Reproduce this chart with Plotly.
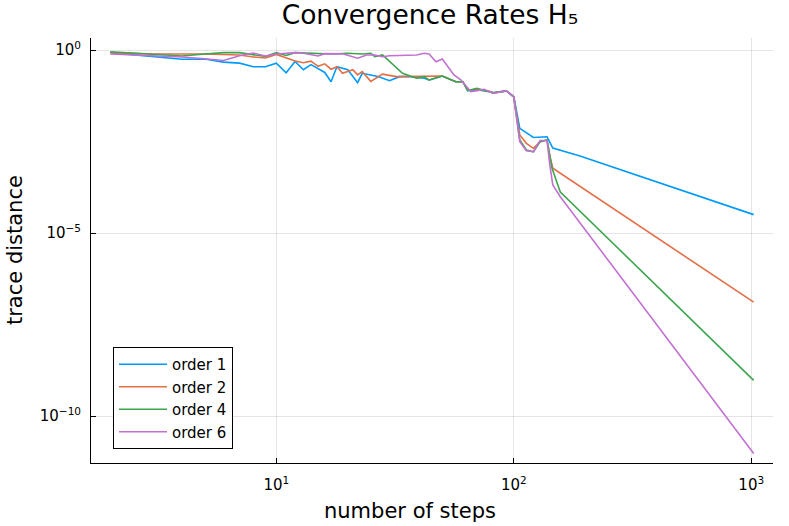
import plotly.graph_objects as go

# ---- data ----
order1_steps = [2, 3, 4, 5, 6, 7, 8, 9, 10, 11, 12, 13, 14, 16, 17, 18, 20, 22, 23, 25, 27, 30, 33, 36,
                42, 44, 50, 57, 61, 64, 70, 79, 82, 93, 100, 106, 121, 138, 146, 190, 1024]
order1_vals = [0.85, 0.68, 0.56, 0.57, 0.47, 0.44, 0.35, 0.35, 0.44, 0.24, 0.49, 0.29, 0.40, 0.245, 0.137,
               0.35, 0.29, 0.129, 0.232, 0.209, 0.188, 0.146, 0.188, 0.19, 0.17, 0.152, 0.196, 0.137,
               0.137, 0.078, 0.083, 0.073, 0.068, 0.077, 0.053, 0.0073, 0.0041, 0.0043, 0.0021,
               0.00128, 3.2e-5]

order2_steps = [2, 3, 5, 7, 8, 9, 10, 11, 12, 13, 14, 15, 16, 17, 18, 19, 21, 22, 23, 25, 28, 32, 36,
                42, 50, 57, 61, 64, 70, 79, 82, 93, 100, 106, 113, 121, 129, 138, 142, 146, 1024]
order2_vals = [0.85, 0.78, 0.78, 0.735, 0.65, 0.61, 0.76, 0.597, 0.50, 0.45, 0.50, 0.36, 0.42, 0.30,
               0.35, 0.232, 0.29, 0.21, 0.26, 0.14, 0.22, 0.188, 0.19, 0.188, 0.196, 0.137, 0.137,
               0.080, 0.085, 0.075, 0.068, 0.077, 0.053, 0.00479, 0.00284, 0.00207, 0.00314, 0.0035,
               0.00122, 0.00059, 1.3e-7]

order4_steps = [2, 3, 4, 5, 6, 7, 9, 10, 11, 12, 14, 17, 20, 23, 25, 26, 28, 34, 39, 42, 44, 50, 57,
                61, 64, 70, 79, 82, 93, 100, 106, 113, 121, 129, 138, 145, 149, 157, 1024]
order4_vals = [0.904, 0.78, 0.69, 0.78, 0.85, 0.85, 0.67, 0.85, 0.71, 0.85, 0.82, 0.78, 0.82, 0.78,
               0.82, 0.66, 0.735, 0.232, 0.17, 0.188, 0.152, 0.196, 0.137, 0.137, 0.078, 0.090, 0.073,
               0.068, 0.077, 0.053, 0.0035, 0.00186, 0.00167, 0.00314, 0.0035, 0.00059, 0.00035,
               1.33e-4, 9.5e-10]

order6_steps = [2, 3, 4, 5, 6, 7, 8, 9, 10, 12, 13, 15, 16, 19, 22, 24, 26, 28, 30, 39, 42, 44, 47,
                50, 56, 60, 66, 70, 75, 82, 93, 100, 106, 113, 121, 129, 138, 142, 146, 157, 1024]
order6_vals = [0.78, 0.72, 0.65, 0.58, 0.52, 0.70, 0.83, 0.69, 0.78, 0.85, 0.818, 0.69, 0.80, 0.79,
               0.60, 0.735, 0.735, 0.66, 0.70, 0.735, 0.82, 0.78, 0.48, 0.57, 0.21, 0.152, 0.073,
               0.078, 0.085, 0.066, 0.077, 0.053, 0.00314, 0.00178, 0.00167, 0.0034, 0.0034, 0.0007,
               0.000206, 9.9e-5, 9.6e-12]

series_names = ["order 1", "order 2", "order 4", "order 6"]
series_colors = ["#009AFA", "#E36F47", "#3EA44E", "#C271D2"]

x_tick_vals = [10, 100, 1000]
x_tick_text = ["10<sup>1</sup>", "10<sup>2</sup>", "10<sup>3</sup>"]
y_tick_vals = [1, 1e-5, 1e-10]
y_tick_text = ["10<sup>0</sup>", "10<sup>\u22125</sup>", "10<sup>\u221210</sup>"]

FONT = "DejaVu Sans"

fig = go.Figure()
for name, color, xs, ys in zip(series_names, series_colors,
                               [order1_steps, order2_steps, order4_steps, order6_steps],
                               [order1_vals, order2_vals, order4_vals, order6_vals]):
    fig.add_trace(go.Scatter(x=xs, y=ys, mode="lines", name=name,
                             line=dict(color=color, width=1.6)))

W, H = 789, 526
L, R, T, B = 91, 16, 38, 63
pw, ph = W - L - R, H - T - B

fig.update_layout(
    width=W, height=H,
    margin=dict(l=L, r=R, t=T, b=B, pad=0, autoexpand=False),
    paper_bgcolor="white", plot_bgcolor="white",
    font=dict(family=FONT, color="black"),
    title=dict(text="Convergence Rates H\u2085", x=(430 - L) / pw, xref="paper", xanchor="center",
               y=1 - 15 / H, yref="container", yanchor="middle",
               font=dict(family=FONT, size=26.5, color="black")),
    showlegend=True,
    legend=dict(x=(113 - L) / pw, y=(463 - 449) / ph, xanchor="left", yanchor="bottom",
                bordercolor="black", borderwidth=1, bgcolor="white",
                font=dict(family=FONT, size=15, color="black"),
                tracegroupgap=0, itemwidth=48),
    xaxis=dict(type="log", range=[0.2197, 3.0916],
               tickvals=x_tick_vals, ticktext=x_tick_text,
               ticks="inside", ticklen=5, tickcolor="black", tickwidth=1,
               ticklabelstandoff=8,
               showline=True, linecolor="black", linewidth=1, mirror=False,
               showgrid=True, gridcolor="rgba(0,0,0,0.1)", gridwidth=1,
               zeroline=False, tickfont=dict(family=FONT, size=15, color="black")),
    yaxis=dict(type="log", range=[-11.28, 0.33],
               tickvals=y_tick_vals, ticktext=y_tick_text,
               ticks="inside", ticklen=5, tickcolor="black", tickwidth=1,
               ticklabelstandoff=6,
               showline=True, linecolor="black", linewidth=1, mirror=False,
               showgrid=True, gridcolor="rgba(0,0,0,0.1)", gridwidth=1,
               zeroline=False, tickfont=dict(family=FONT, size=15, color="black")),
    annotations=[
        dict(text="number of steps", xref="paper", yref="paper",
             x=(410 - L) / pw, y=(463 - 511) / ph, xanchor="center", yanchor="middle",
             showarrow=False, font=dict(family=FONT, size=21, color="black")),
        dict(text="trace distance", xref="paper", yref="paper",
             x=(15 - L) / pw, y=(463 - 250) / ph, xanchor="center", yanchor="middle",
             textangle=-90, showarrow=False, font=dict(family=FONT, size=21, color="black")),
    ],
)

fig.write_html("out.html",
               config={"displayModeBar": False},
               post_script="document.body.style.margin='0';document.body.style.padding='0';")
